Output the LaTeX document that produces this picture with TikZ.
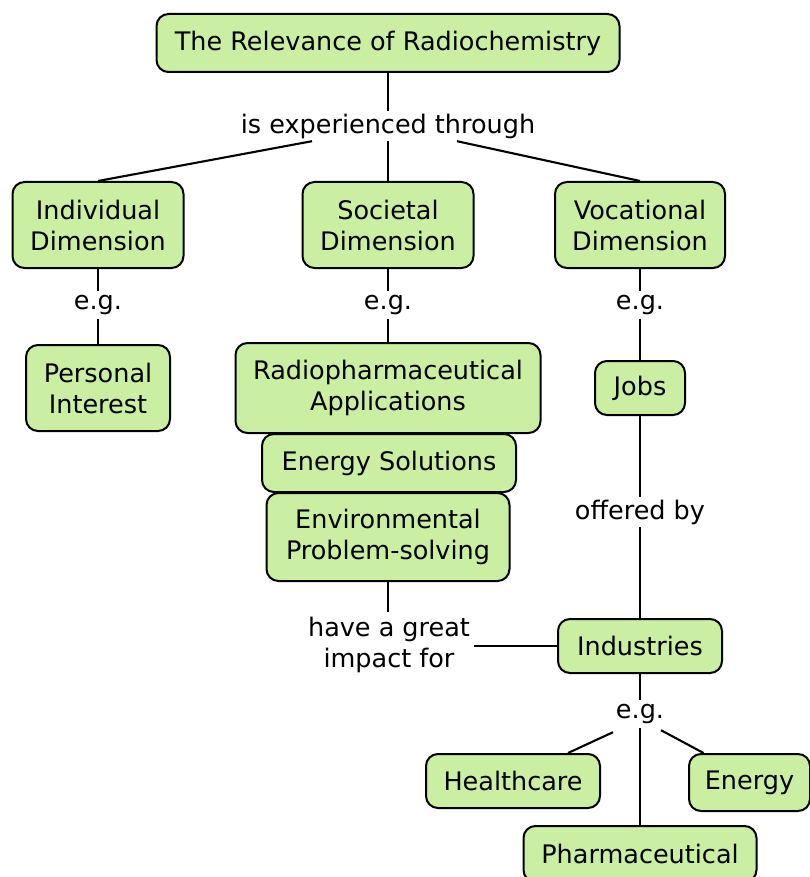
\documentclass[tikz,border=0pt]{standalone}
\usepackage{fontspec}
\setmainfont{DejaVu Sans}
\usetikzlibrary{calc}
\definecolor{boxfill}{RGB}{202,239,162}
\begin{document}
\begin{tikzpicture}[x=1pt,y=-1pt,
  concept/.style={draw=black,fill=boxfill,line width=2pt,rounded corners=12pt,
    align=center,inner sep=0pt,font=\fontsize{25.5}{31}\selectfont},
  linklab/.style={align=center,inner sep=0pt,font=\fontsize{25.5}{31}\selectfont},
  conn/.style={line width=2.1pt}]
\useasboundingbox (0,0) rectangle (810,877);
\fill[white] (0,0) rectangle (810,877);
% link labels
\node[linklab,minimum width=300,minimum height=30] (l1) at (388,126) {is experienced through};
\node[linklab,minimum width=60,minimum height=28] (l2) at (98,305) {e.g.};
\node[linklab,minimum width=60,minimum height=28] (l3) at (388,305) {e.g.};
\node[linklab,minimum width=60,minimum height=28] (l4) at (640,305) {e.g.};
\node[linklab,minimum width=140,minimum height=30] (l5) at (640,512) {offered by};
\node[linklab,minimum width=170,minimum height=66] (l6) at (389,645) {have a great\\impact for};
\node[linklab,minimum width=60,minimum height=28] (l7) at (640,714) {e.g.};
% concepts
\node[concept,minimum width=463,minimum height=58] (top) at (388,43) {The Relevance of Radiochemistry};
\node[concept,minimum width=171,minimum height=86] (ind) at (98,225) {Individual\\Dimension};
\node[concept,minimum width=171,minimum height=86] (soc) at (388,225) {Societal\\Dimension};
\node[concept,minimum width=170,minimum height=86] (voc) at (640,225) {Vocational\\Dimension};
\node[concept,minimum width=144,minimum height=86] (per) at (98,388) {Personal\\Interest};
\node[concept,minimum width=305,minimum height=90] (rad) at (388,388) {Radiopharmaceutical\\Applications};
\node[concept,minimum width=254,minimum height=58] (ens) at (389,463) {Energy Solutions};
\node[concept,minimum width=243,minimum height=88] (env) at (388,537) {Environmental\\Problem-solving};
\node[concept,minimum width=90,minimum height=54] (job) at (640,388) {Jobs};
\node[concept,minimum width=164,minimum height=54] (indu) at (640,646) {Industries};
\node[concept,minimum width=174,minimum height=54] (hea) at (513,781) {Healthcare};
\node[concept,minimum width=121,minimum height=57] (ene) at (749.5,782.5) {Energy};
\node[concept,minimum width=233,minimum height=56] (pha) at (640,854) {Pharmaceutical};
% connectors
\draw[conn] (top) -- (l1);
\draw[conn] ($(l1.south)+(-76,0)$) -- (ind.north);
\draw[conn] (l1) -- (soc);
\draw[conn] ($(l1.south)+(69,0)$) -- (voc.north);
\draw[conn] (ind) -- (l2);
\draw[conn] (l2) -- (per);
\draw[conn] (soc) -- (l3);
\draw[conn] (l3) -- (rad);
\draw[conn] (voc) -- (l4);
\draw[conn] (l4) -- (job);
\draw[conn] (job) -- (l5);
\draw[conn] (l5) -- (indu.north);
\draw[conn] (env.south) -- (l6.north -| env.south);
\draw[conn] (l6.east |- indu.west) -- (indu.west);
\draw[conn] (indu) -- (l7);
\draw[conn] ($(l7.south)+(-27,4)$) -- ($(hea.north)+(55,0)$);
\draw[conn] (l7.south) -- (pha.north);
\draw[conn] ($(l7.south)+(21,2)$) -- ($(ene.north)+(-46,0)$);
\end{tikzpicture}
\end{document}
